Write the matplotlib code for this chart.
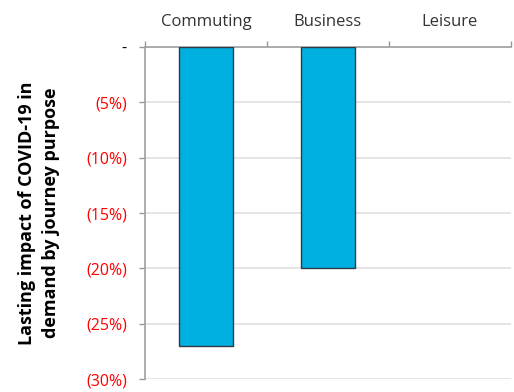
import matplotlib.pyplot as plt
import numpy as np

categories = ['Commuting', 'Business', 'Leisure']
impact     = [-27.0, -20.0, 0.0]
yticks     = [0, -5, -10, -15, -20, -25, -30]

plt.rcParams['font.family'] = ['Open Sans', 'DejaVu Sans']

fig = plt.figure(figsize=(5.14, 3.92), dpi=100)
ax  = fig.add_axes([0.282, 0.033, 0.712, 0.847])

x    = np.arange(len(categories))
bars = ax.bar(x, impact, width=0.44, color='#00B0E0', edgecolor='#2E3A46', linewidth=1.0, zorder=3)
for b, v in zip(bars, impact):
    if v == 0:
        b.set_linewidth(0)

ax.set_xlim(-0.5, len(categories) - 0.5)
ax.set_ylim(-30, 0)

# category names sit above the top axis, ticks mark the boundaries
ax.xaxis.tick_top()
ax.set_xticks(np.arange(len(categories) + 1) - 0.5)
ax.set_xticklabels([])
ax.set_xticks(x, minor=True)
ax.set_xticklabels(categories, minor=True, fontsize=12, color='#333333')
ax.tick_params(axis='x', which='major', length=4, width=1, color='#999999', direction='out')
ax.tick_params(axis='x', which='minor', length=0, pad=12)

ax.set_yticks(yticks)
labels = ['-' if v == 0 else f'({abs(v)}%)' for v in yticks]
ax.set_yticklabels(labels, fontsize=11.5)
for t, v in zip(ax.get_yticklabels(), yticks):
    t.set_color('black' if v == 0 else '#FF0000')
ax.tick_params(axis='y', length=4, width=1, color='#999999', pad=9)

ax.grid(axis='y', color='#E0E0E0', linewidth=1.2, zorder=0)
for s in ['right', 'bottom']:
    ax.spines[s].set_visible(False)
for s in ['left', 'top']:
    ax.spines[s].set_color('#A0A0A0')
    ax.spines[s].set_linewidth(1.2)

ax.set_ylabel('Lasting impact of COVID-19 in\ndemand by journey purpose',
              fontsize=13, fontweight='bold', labelpad=19, linespacing=1.4)

fig.savefig('out.png', dpi=100)
